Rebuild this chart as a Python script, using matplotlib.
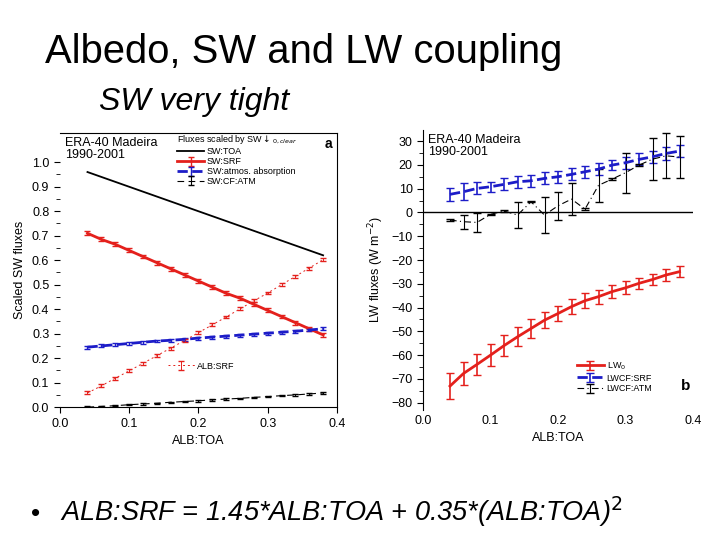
import numpy as np
import matplotlib.pyplot as plt

plt.rcParams['font.family'] = ['Liberation Sans', 'DejaVu Sans']

alb_toa = [0.04, 0.06, 0.08, 0.10, 0.12, 0.14, 0.16, 0.18, 0.20,
           0.22, 0.24, 0.26, 0.28, 0.30, 0.32, 0.34, 0.36, 0.38]

# panel a: scaled SW fluxes
sw_toa = [0.96, 0.94, 0.92, 0.90, 0.88, 0.86, 0.84, 0.82, 0.80,
          0.78, 0.76, 0.74, 0.72, 0.70, 0.68, 0.66, 0.64, 0.62]
sw_srf = [0.71, 0.685, 0.665, 0.64, 0.615, 0.59, 0.565, 0.54, 0.515,
          0.49, 0.465, 0.445, 0.42, 0.395, 0.37, 0.345, 0.32, 0.295]
sw_abs = [0.245, 0.25, 0.255, 0.26, 0.265, 0.27, 0.273, 0.277, 0.282,
          0.286, 0.29, 0.294, 0.298, 0.302, 0.306, 0.31, 0.315, 0.32]
sw_cf_atm = [0.0, 0.003, 0.006, 0.01, 0.013, 0.016, 0.02, 0.023, 0.026,
             0.03, 0.033, 0.036, 0.04, 0.043, 0.047, 0.05, 0.054, 0.058]
alb_srf = [0.058, 0.087, 0.118, 0.148, 0.179, 0.210, 0.241, 0.272, 0.304,
           0.336, 0.368, 0.401, 0.434, 0.466, 0.500, 0.534, 0.568, 0.602]

# panel b: LW fluxes (W m-2)
lw_tot = [-73.0, -67.7, -63.9, -60.0, -56.0, -52.3, -48.8, -45.3, -42.5,
          -39.6, -37.1, -35.4, -33.3, -31.7, -29.8, -28.2, -26.3, -24.9]
lw_tot_err = [5.5, 5, 4.3, 4.5, 4.3, 4, 3.8, 3.4, 3.3,
              3.2, 3.2, 2.9, 2.8, 2.7, 2.4, 2.3, 2.4, 2.4]
lwcf_srf = [7.6, 8.7, 10.1, 10.8, 11.8, 12.9, 13.3, 14.3, 15.0,
            16.0, 17.1, 18.2, 19.9, 20.9, 22.3, 23.4, 24.8, 25.8]
lwcf_srf_err = [2.8, 3.5, 2.5, 2, 2.5, 2.5, 2.5, 2.5, 2.5,
                2.5, 2.5, 2.5, 2, 2.5, 2.5, 2.5, 2.8, 2.5]
lwcf_atm = [-3.2, -3.9, -4.2, -0.8, 0.6, -1.1, 4.5, -1.1, 2.8,
            5.6, 1.4, 11.4, 14.0, 16.7, 19.9, 22.4, 23.8, 23.3]
lwcf_atm_err = [0.3, 3, 3.9, 0.3, 0.3, 5.5, 0.3, 7.7, 6,
                6.7, 0.3, 7, 0.3, 8.4, 0.3, 8.8, 9.5, 9]

red = '#e4201c'
blue = '#1c1cc8'

fig = plt.figure(figsize=(7.2, 5.4), dpi=100)

fig.text(0.062, 0.883, 'Albedo, SW and LW coupling', fontsize=28.8)
fig.text(0.138, 0.797, 'SW very tight', fontsize=23, style='italic')
fig.text(0.043, 0.035, '\u2022', fontsize=19)
fig.text(0.083, 0.035, 'ALB:SRF = 1.45*ALB:TOA + 0.35*(ALB:TOA)$^{2}$',
         fontsize=19.5, style='italic')

# ---- panel a
ax1 = fig.add_axes([0.083, 0.246, 0.385, 0.508])
l_toa, = ax1.plot(alb_toa, sw_toa, color='black', lw=1.3)
e_srf = ax1.errorbar(alb_toa, sw_srf, yerr=0.008, color=red, lw=2,
                     capsize=2.5, elinewidth=1)
e_abs = ax1.errorbar(alb_toa, sw_abs, yerr=0.006, color=blue, lw=2, ls='--',
                     capsize=2.5, elinewidth=1)
e_atm = ax1.errorbar(alb_toa, sw_cf_atm, yerr=0.003, color='black', lw=0.8,
                     ls=(0, (6, 4)), capsize=2, elinewidth=0.8)
e_alb = ax1.errorbar(alb_toa, alb_srf, yerr=0.006, color=red, lw=0.7,
                     ls=(0, (2, 3)), capsize=2, elinewidth=0.7)
ax1.set_xlim(0, 0.4)
ax1.set_ylim(0, 1.12)
ax1.spines['left'].set_visible(False)
ax1.set_xticks([0.0, 0.1, 0.2, 0.3, 0.4])
ax1.set_yticks(np.arange(0, 1.01, 0.1))
ax1.set_yticks(np.arange(0.05, 1.0, 0.1), minor=True)
ax1.tick_params(labelsize=9, direction='out', length=4)
ax1.tick_params(which='minor', length=3)
ax1.set_ylabel('Scaled SW fluxes', fontsize=9)
ax1.set_xlabel('ALB:TOA', fontsize=9)
ax1.text(0.02, 0.985, 'ERA-40 Madeira\n1990-2001', transform=ax1.transAxes,
         fontsize=9, va='top', linespacing=1.0)
ax1.text(0.955, 0.985, 'a', transform=ax1.transAxes, fontsize=10,
         fontweight='bold', va='top')
leg1 = ax1.legend([l_toa, e_srf, e_abs, e_atm],
                  ['SW:TOA', 'SW:SRF', 'SW:atmos. absorption', 'SW:CF:ATM'],
                  title='Fluxes scaled by SW$\\downarrow_{0,clear}$',
                  loc='upper left', bbox_to_anchor=(0.4, 1.02), frameon=False,
                  fontsize=6.5, title_fontsize=6.5, handlelength=3,
                  labelspacing=0.1, borderpad=0.2, handletextpad=0.3)
leg1._legend_box.align = 'left'
ax1.add_artist(leg1)
ax1.legend([e_alb], ['ALB:SRF'], loc='center left',
           bbox_to_anchor=(0.36, 0.15), frameon=False, fontsize=6.5,
           handlelength=3, handletextpad=0.3)

# ---- panel b
ax2 = fig.add_axes([0.5875, 0.241, 0.375, 0.518])
ax2.errorbar(alb_toa, lw_tot, yerr=lw_tot_err, color=red, lw=2,
             capsize=3, elinewidth=1.2, label='LW$_{0}$')
ax2.errorbar(alb_toa, lwcf_srf, yerr=lwcf_srf_err, color=blue, lw=2, ls='--',
             capsize=3, elinewidth=1.2, label='LWCF:SRF')
ax2.errorbar(alb_toa, lwcf_atm, yerr=lwcf_atm_err, color='black', lw=0.8,
             ls=(0, (6, 3, 1, 3)), capsize=3, elinewidth=0.8,
             label='LWCF:ATM')
ax2.axhline(0, color='black', lw=1)
ax2.set_xlim(0, 0.4)
ax2.set_ylim(-83, 34.6)
for s in ['top', 'right', 'bottom']:
    ax2.spines[s].set_visible(False)
ax2.set_xticks([0.0, 0.1, 0.2, 0.3, 0.4])
ax2.set_yticks(np.arange(-80, 31, 10))
ax2.set_yticks(np.arange(-75, 31, 10), minor=True)
ax2.tick_params(axis='x', length=0, labelsize=9)
ax2.tick_params(axis='y', labelsize=9, direction='out', length=4)
ax2.tick_params(axis='y', which='minor', length=3)
ax2.set_ylabel('LW fluxes (W m$^{-2}$)', fontsize=9)
ax2.set_xlabel('ALB:TOA', fontsize=9)
ax2.text(0.02, 0.985, 'ERA-40 Madeira\n1990-2001', transform=ax2.transAxes,
         fontsize=9, va='top', linespacing=1.0)
ax2.text(0.955, 0.07, 'b', transform=ax2.transAxes, fontsize=11,
         fontweight='bold')
ax2.legend(loc='lower left', bbox_to_anchor=(0.54, 0.03), frameon=False,
           fontsize=6.5, handlelength=3, labelspacing=0.2,
           handletextpad=0.3)

fig.savefig('out.png', dpi=100)
